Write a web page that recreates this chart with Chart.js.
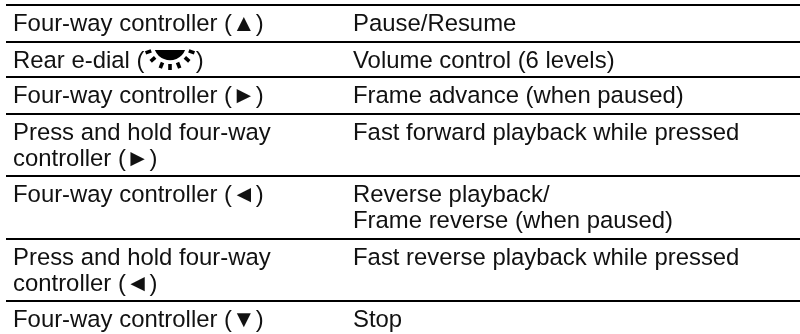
<!DOCTYPE html>
<html><head><meta charset="utf-8">
<style>html,body{margin:0;padding:0;background:#fff}#w{width:800px;height:334px}</style>
<script src="https://cdn.jsdelivr.net/npm/chart.js@4"></script></head>
<body><div id="w"><canvas id="c"></canvas></div>
<script>
const leftColumn = [
  ["Four-way controller (\u25B2)"],
  ["Rear e-dial (\u00A0\u00A0\u00A0\u00A0\u00A0\u00A0\u00A0\u2009)"],
  ["Four-way controller (\u25BA)"],
  ["Press and hold four-way","controller (\u25BA)"],
  ["Four-way controller (\u25C4)"],
  ["Press and hold four-way","controller (\u25C4)"],
  ["Four-way controller (\u25BC)"]
];
const rightColumn = [
  ["Pause/Resume"],
  ["Volume control (6 levels)"],
  ["Frame advance (when paused)"],
  ["Fast forward playback while pressed"],
  ["Reverse playback/","Frame reverse (when paused)"],
  ["Fast reverse playback while pressed"],
  ["Stop"]
];
const ruleRows = [5, 42, 77, 114, 176, 239, 301];
const dialTickAngles = [160, 138, 112, 90, 68, 42, 20];

const FONT = '23.9px "Liberation Sans", Arial, sans-serif';
const tablePlugin = {
  id:'tableText',
  afterDatasetsDraw(chart){
    const {ctx, scales:{x,y}} = chart;
    ctx.save();
    ctx.font = FONT; ctx.fillStyle='#111'; ctx.textBaseline='alphabetic'; ctx.textAlign='left';
    ruleRows.forEach((r,i)=>{
      leftColumn[i].forEach((t,j)=>ctx.fillText(t, x.getPixelForValue(13), y.getPixelForValue(r+26+j*25.5)));
      rightColumn[i].forEach((t,j)=>ctx.fillText(t, x.getPixelForValue(353), y.getPixelForValue(r+26+j*25.5)));
    });
    // rear e-dial icon: chord segment plus radial ticks
    const cx=x.getPixelForValue(170), cy=y.getPixelForValue(44);
    ctx.fillStyle='#000'; ctx.strokeStyle='#000';
    const a=Math.asin(6/16.25);
    ctx.beginPath(); ctx.arc(cx,cy,16.25,a,Math.PI-a); ctx.closePath(); ctx.fill();
    ctx.lineWidth=3.6;
    dialTickAngles.forEach(d=>{
      const t=d*Math.PI/180, c=Math.cos(t), s=Math.sin(t);
      ctx.beginPath();
      ctx.moveTo(cx+c*20,cy+s*20);
      ctx.lineTo(cx+c*26,cy+s*26);
      ctx.stroke();
    });
    ctx.restore();
  }
};
new Chart(document.getElementById('c'),{
  type:'line',
  data:{datasets:ruleRows.map(r=>({data:[{x:6,y:r},{x:800,y:r}],borderColor:'#000',borderWidth:2,pointRadius:0,tension:0}))},
  options:{
    responsive:true,maintainAspectRatio:false,animation:false,
    layout:{padding:0},
    plugins:{legend:{display:false},tooltip:{enabled:false}},
    scales:{
      x:{type:'linear',display:false,min:0,max:800},
      y:{type:'linear',display:false,min:0,max:334,reverse:true}
    }
  },
  plugins:[tablePlugin]
});
</script></body></html>
